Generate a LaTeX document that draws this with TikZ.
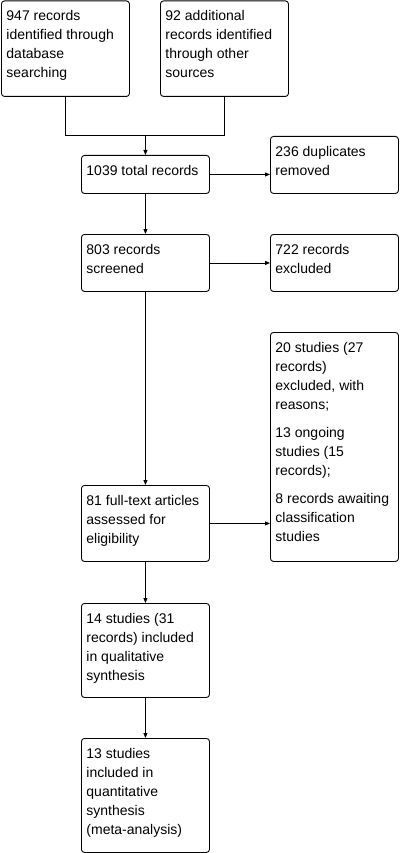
\documentclass[tikz,border=0pt]{standalone}
\usepackage{fontspec}
\setmainfont{Liberation Sans}
\usetikzlibrary{arrows.meta}
\newcommand\bt[2]{\begin{minipage}[t][#1][t]{118pt}\raggedright\rule{0pt}{20pt}#2\end{minipage}}
\begin{document}
\begin{tikzpicture}[x=1pt,y=-1pt,
 box/.style={draw, rounded corners=3pt, line width=0.9pt, inner xsep=5pt, inner ysep=0pt, anchor=north west, font=\fontsize{14}{19}\selectfont},
 con/.style={line width=0.9pt},
 arr/.style={con, -{Triangle[length=5pt,width=4pt]}}]
\fill[white] (0,0) rectangle (403,853);
\useasboundingbox (0,0) rectangle (403,853);
\node[box] (b1) at (1,0.5) {\bt{95.5pt}{947 records\\identified through\\database\\searching}};
\node[box] (b2) at (160,0.5) {\bt{95.5pt}{92 additional\\records identified\\through other\\sources}};
\node[box] (b3) at (81,155) {\bt{38pt}{1039 total records}};
\node[box] (b4) at (270,136) {\bt{57pt}{236 duplicates\\removed}};
\node[box] (b5) at (81,234) {\bt{57pt}{803 records\\screened}};
\node[box] (b6) at (270,234) {\bt{57pt}{722 records\\excluded}};
\node[box] (b7) at (270,332) {\bt{229pt}{20 studies (27\\records)\\excluded, with\\reasons;\\[9pt]13 ongoing\\studies (15\\records);\\[9pt]8 records awaiting\\classification\\studies}};
\node[box] (b8) at (81,485) {\bt{76pt}{81 full-text articles\\assessed for\\eligibility}};
\node[box] (b9) at (81,603) {\bt{94pt}{14 studies (31\\records) included\\in qualitative\\synthesis}};
\node[box] (b10) at (81,738) {\bt{114pt}{13 studies\\included in\\quantitative\\synthesis\\(meta-analysis)}};
\coordinate (m) at (b3.north |- 0,135);
\draw[con] (b1.south) |- (m);
\draw[con] (b2.south) |- (m);
\draw[arr] (m) -- (b3.north);
\draw[arr] (b3.east) -- (b3.east -| b4.west);
\draw[arr] (b3.south) -- (b5.north);
\draw[arr] (b5.east) -- (b5.east -| b6.west);
\draw[arr] (b5.south) -- (b8.north);
\draw[arr] (b8.east) -- (b8.east -| b7.west);
\draw[arr] (b8.south) -- (b9.north);
\draw[arr] (b9.south) -- (b10.north);
\end{tikzpicture}
\end{document}
